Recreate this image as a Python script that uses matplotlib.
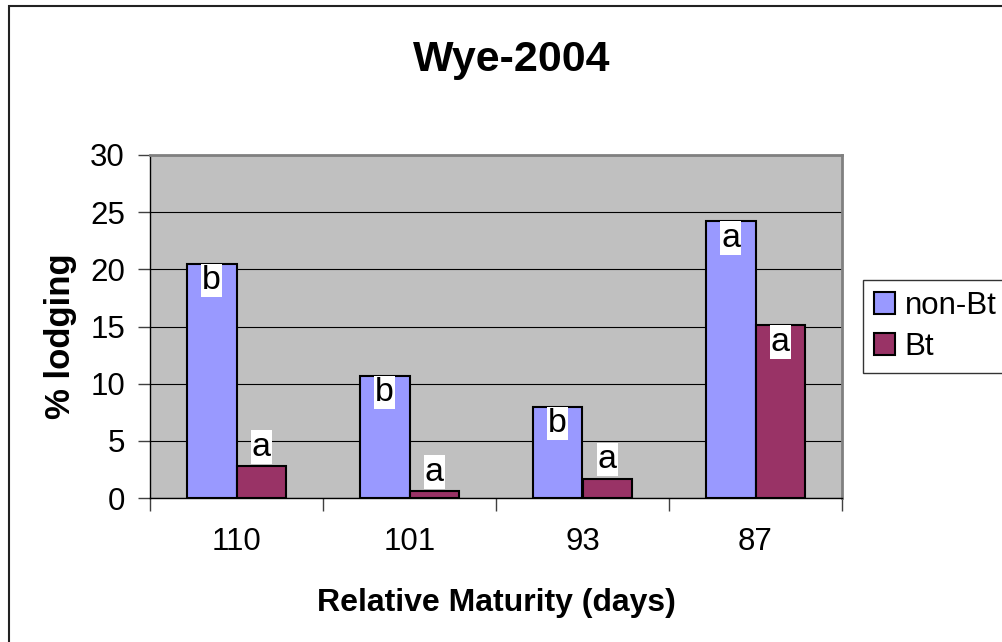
import numpy as np
import matplotlib
matplotlib.use("Agg")
import matplotlib.pyplot as plt
from matplotlib.patches import Rectangle

plt.rcParams['font.family'] = ['Liberation Sans', 'DejaVu Sans']

# data
maturity = ['110', '101', '93', '87']
non_bt = [20.5, 10.7, 8.0, 24.2]
bt = [2.8, 0.6, 1.7, 15.1]
non_bt_letters = ['b', 'b', 'b', 'a']
bt_letters = ['a', 'a', 'a', 'a']
yticks = [0, 5, 10, 15, 20, 25, 30]

W, H = 1002, 642
fig = plt.figure(figsize=(W / 100, H / 100), dpi=100)
ax = fig.add_axes([150 / W, 1 - 498 / H, 692 / W, 343 / H])

# outer chart border (right/bottom run off the picture)
fig.patches.append(Rectangle((9 / W, -0.1), 1.2, 1 - 6 / H + 0.1,
                             transform=fig.transFigure, fill=False,
                             edgecolor='#222222', lw=1.5))

ax.set_facecolor('#C0C0C0')
x = np.arange(len(maturity))
w = 0.289
b1 = ax.bar(x - w / 2, non_bt, w, color='#9999FF', edgecolor='black', lw=1.5,
            label='non-Bt', zorder=3)
b2 = ax.bar(x + w / 2, bt, w, color='#993366', edgecolor='black', lw=1.5,
            label='Bt', zorder=3)

ax.set_ylim(0, 30)
ax.set_xlim(-0.5, len(maturity) - 0.5)
ax.set_yticks(yticks)
ax.yaxis.grid(True, color='black', lw=0.8, zorder=0)
ax.set_axisbelow(True)

fs = 22.5
lfs = 24.5
box_h = 3.4  # label box height in data units
def put_labels(bars, letters):
    for rect, lab in zip(bars, letters):
        h = rect.get_height()
        cx = rect.get_x() + rect.get_width() / 2
        if h > box_h:
            ax.text(cx, h - 0.12, lab, ha='center', va='top', fontsize=lfs, zorder=5,
                    bbox=dict(facecolor='white', edgecolor='none', pad=1))
        else:
            ax.text(cx, h + 0.3, lab, ha='center', va='bottom', fontsize=lfs, zorder=5,
                    bbox=dict(facecolor='white', edgecolor='none', pad=1))

put_labels(b1, non_bt_letters)
put_labels(b2, bt_letters)

# category labels on major ticks, boundary tick marks as minor ticks
ax.set_xticks(x)
ax.set_xticklabels(maturity)
ax.set_xticks(np.arange(-0.5, len(maturity)), minor=True)
ax.tick_params(axis='x', which='major', length=0, pad=21, labelsize=fs)
ax.tick_params(axis='x', which='minor', length=9, width=1, color='#404040',
               direction='out')
ax.tick_params(axis='y', length=9, width=1, color='#404040', direction='out',
               pad=9, labelsize=fs)

for s in ['left', 'bottom']:
    ax.spines[s].set_color('black')
    ax.spines[s].set_linewidth(1)
for s in ['top', 'right']:
    ax.spines[s].set_color('#808080')
    ax.spines[s].set_linewidth(2)

ax.set_xlabel('Relative Maturity (days)', fontsize=23, fontweight='bold', va='center')
ax.xaxis.set_label_coords(0.5, -0.306)
ax.set_ylabel('% lodging', fontsize=25, fontweight='bold', va='center')
ax.yaxis.set_label_coords(-0.130, 0.472)

fig.text(512 / W, 1 - 60 / H, 'Wye-2004', ha='center', va='center',
         fontsize=31, fontweight='bold')

leg = fig.legend(handles=[b1, b2], loc='upper left',
                 bbox_to_anchor=(863 / W, 1 - 280 / H), fontsize=fs,
                 frameon=True, fancybox=False, shadow=False,
                 handlelength=0.68, handleheight=0.68, handletextpad=0.3,
                 borderpad=0.35, labelspacing=0.35, borderaxespad=0)
leg.get_frame().set_edgecolor('black')
leg.get_frame().set_linewidth(1)

fig.savefig('out.png', dpi=100)
